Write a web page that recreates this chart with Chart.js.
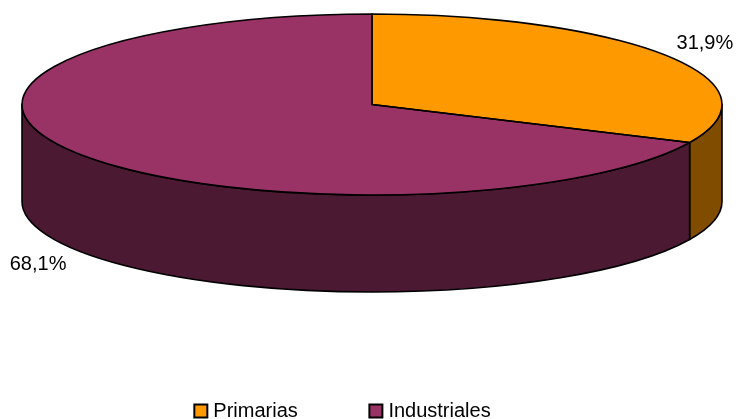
<!DOCTYPE html>
<html>
<head>
<meta charset="utf-8">
<style>html,body{margin:0;padding:0;background:#fff;overflow:hidden}canvas{display:block}</style>
<script src="https://cdn.jsdelivr.net/npm/chart.js@4"></script>
</head>
<body>
<canvas id="c" width="739" height="419"></canvas>
<script>
const categories = ['Primarias', 'Industriales'];
const shares = [31.9, 68.1];
const topColors = ['#FF9900', '#993366'];
const wallColors = ['#7F4C00', '#4C1933'];

const CX = 372, CY = 104.5, RX = 350, RY = 90.5, DEPTH = 97;
const STROKE = 1.6;
const FONT = '20px "Liberation Sans", Arial, sans-serif';

function arcs(chart) { return chart.getDatasetMeta(0).data; }

const pie3d = {
  id: 'pie3d',
  afterLayout(chart) {
    const lg = chart.legend;
    const p = lg.options.labels.padding;
    lg.top = 401 - p;
    lg.left = 0;
    lg.right = 689;
  },
  beforeDatasetsDraw(chart) {
    const ctx = chart.ctx;
    ctx.save();
    ctx.lineWidth = STROKE;
    ctx.strokeStyle = '#000';
    ctx.lineJoin = 'round';
    arcs(chart).forEach((a, i) => {
      const p = a.getProps(['startAngle', 'endAngle'], true);
      const s = Math.max(p.startAngle, 0), e = Math.min(p.endAngle, Math.PI);
      if (e <= s) return;
      ctx.beginPath();
      ctx.ellipse(CX, CY, RX, RY, 0, s, e);
      ctx.ellipse(CX, CY + DEPTH, RX, RY, 0, e, s, true);
      ctx.closePath();
      ctx.fillStyle = wallColors[i];
      ctx.fill();
      ctx.stroke();
    });
    ctx.restore();
  },
  beforeDatasetDraw(chart) {
    const ctx = chart.ctx, a = arcs(chart)[0];
    const p = a.getProps(['x', 'y', 'outerRadius'], true);
    ctx.save();
    ctx.translate(CX, CY);
    ctx.scale(RX / p.outerRadius, RY / p.outerRadius);
    ctx.translate(-p.x, -p.y);
  },
  afterDatasetDraw(chart) {
    chart.ctx.restore();
  },
  afterDatasetsDraw(chart) {
    const ctx = chart.ctx;
    ctx.save();
    ctx.lineWidth = STROKE;
    ctx.strokeStyle = '#000';
    ctx.lineJoin = 'round';
    arcs(chart).forEach(a => {
      const p = a.getProps(['startAngle', 'endAngle'], true);
      ctx.beginPath();
      ctx.moveTo(CX, CY);
      ctx.ellipse(CX, CY, RX, RY, 0, p.startAngle, p.endAngle);
      ctx.closePath();
      ctx.stroke();
    });
    ctx.fillStyle = '#000';
    ctx.font = FONT;
    ctx.textAlign = 'center';
    ctx.textBaseline = 'middle';
    arcs(chart).forEach((a, i) => {
      const p = a.getProps(['startAngle', 'endAngle'], true);
      const mid = (p.startAngle + p.endAngle) / 2;
      const cos = Math.cos(mid), sin = Math.sin(mid);
      const x = CX + RX * cos + (cos > 0 ? 38 : -39);
      const y = CY + RY * sin + (sin > 0 ? DEPTH + 14 : -13) + 0.5;
      ctx.fillText(shares[i].toFixed(1).replace('.', ',') + '%', x, y);
    });
    ctx.restore();
  }
};

new Chart(document.getElementById('c'), {
  type: 'pie',
  data: {
    labels: categories,
    datasets: [{
      data: shares,
      backgroundColor: topColors,
      borderWidth: 0,
      clip: false
    }]
  },
  options: {
    responsive: false,
    animation: false,
    devicePixelRatio: 1,
    layout: { padding: 0 },
    plugins: {
      tooltip: { enabled: false },
      title: { display: false },
      legend: {
        display: true,
        position: 'bottom',
        labels: {
          usePointStyle: true,
          pointStyle: 'rect',
          boxWidth: 5,
          boxHeight: 13,
          padding: 75.6,
          color: '#000',
          font: { family: '"Liberation Sans", Arial, sans-serif', size: 20 },
          generateLabels(chart) {
            return Chart.overrides.pie.plugins.legend.labels.generateLabels(chart).map(it => {
              it.strokeStyle = '#000';
              it.lineWidth = 2;
              it.pointStyle = 'rect';
              it.rotation = 0;
              return it;
            });
          }
        }
      }
    }
  },
  plugins: [pie3d]
});
</script>
</body>
</html>
